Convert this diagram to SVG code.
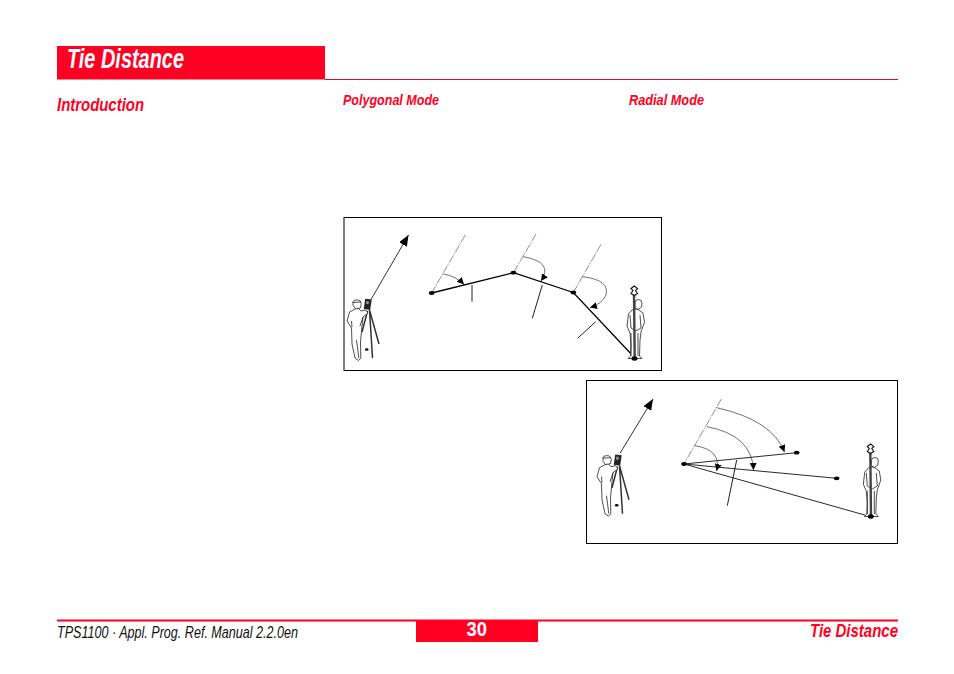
<svg xmlns="http://www.w3.org/2000/svg" width="954" height="674" viewBox="0 0 954 674">
<style>
text{font-family:"Liberation Sans",Arial,sans-serif;font-style:italic;font-weight:bold;fill:#f02}
.f{fill:#fff;stroke:#000;stroke-width:1}
.fig{fill:#fff;stroke:#222;stroke-width:.8;stroke-linejoin:round}
.leg{fill:none;stroke:#333;stroke-width:1.500}
.dash{fill:none;stroke:#444;stroke-width:.6;stroke-dasharray:8 1.200 1.500 1.200}
.ln{fill:none;stroke:#000;stroke-width:1.300}
.ln2{fill:none;stroke:#111;stroke-width:.9}
.ar{fill:none;stroke:#333;stroke-width:.7;marker-end:url(#a)}
.no{fill:none;stroke:#000;stroke-width:.8;marker-end:url(#b)}
.ld{fill:none;stroke:#222;stroke-width:1}
</style>
<defs>
<marker id="a" markerUnits="userSpaceOnUse" markerWidth="9" markerHeight="8" refX="7" refY="3.500" orient="auto"><path d="M0 0L7 3.500L0 7Z" fill="#000"/></marker>
<marker id="b" markerUnits="userSpaceOnUse" markerWidth="12" markerHeight="10" refX="11" refY="4.500" orient="auto"><path d="M0 0L11 4.500L0 9Z" fill="#000"/></marker>
<g id="surveyor">
<path class="leg" d="M369.500 310L379 344M369.500 310L372.500 358"/>
<path class="leg" d="M367.500 311L362 332"/>
<path class="fig" d="M355 309L349.500 312L347 321L351.500 328L352 344L355 358L358.500 360.500L360.800 358L360.500 342L362 326L363 317L368 313L365.500 310L361 311L358 308Z"/>
<path class="fig" d="M356.500 340L358.800 358M351.500 321L352 327M363 317L360 326"/>
<path d="M353 305.500a4.300 4.300 0 0 1 8.300-2l-.8 4.500l-5 .8Z" class="fig"/>
<path d="M352.500 302.500a4.500 3.500 0 0 1 8.500-.5Z" class="fig"/>
<rect x="364.500" y="299" width="6.500" height="10.500" fill="#222" transform="rotate(8 367 304)"/>
<rect x="366" y="301" width="2.500" height="3" fill="#999" transform="rotate(8 367 304)"/>
<ellipse cx="366.700" cy="349.500" rx="1.800" ry="1.300" fill="#000"/>
</g>
<g id="rodman">
<path class="fig" d="M632 310L628.500 314L627 326L630 333L631 345L630.500 356L628 358.500L633 358.500L637 358.500L642 358.500L639.500 356L640 340L641 332L644.500 322L643 313L639 310L636 309Z"/>
<path class="fig" d="M630 315L631 328L636 331L641 328L640 315M631 333V356M638 333V356"/>
<path class="fig" d="M635 303a3.500 3.500 0 0 1 7 0l-.5 4l-3.500 2.500l-3-2Z"/>
<path d="M634 293L634.700 358" fill="none" stroke="#444" stroke-width="2.400"/>
<path d="M631 288.500L634.300 286L637.500 288.500L635.500 290.500L637.500 293.500L634.300 295.500L631 293.500L633 290.500Z" fill="#fff" stroke="#111" stroke-width="1.100"/>
<ellipse cx="634.500" cy="358.500" rx="3" ry="2.200" fill="#000"/>
</g>
</defs>
<g id="header">
<rect x="57" y="46" width="268" height="33.500" fill="#f02"/>
<path d="M325 79.500H898" stroke="#d0102a" stroke-width="1"/>
<text x="67" y="68" font-size="27" textLength="117" lengthAdjust="spacingAndGlyphs" style="fill:#fff">Tie Distance</text>
<text x="57" y="111" font-size="18" textLength="87" lengthAdjust="spacingAndGlyphs">Introduction</text>
<text x="343" y="105" font-size="15" textLength="96" lengthAdjust="spacingAndGlyphs">Polygonal Mode</text>
<text x="629" y="105" font-size="15" textLength="75" lengthAdjust="spacingAndGlyphs">Radial Mode</text>
</g>
<g id="polygonal-frame"><rect class="f" x="344" y="217.500" width="317.500" height="153"/></g>
<g id="radial-frame"><rect class="f" x="586.500" y="380.500" width="311" height="163"/></g>
<g id="connectors">
<path class="no" d="M370.700 300L408.500 235"/>
<path class="dash" d="M465.300 235L431.700 293M536 234L513.500 272.700M601 244.300L573.300 292.500"/>
<path class="ln" d="M431.700 293L513.500 272.700L573.300 292.500L634 357"/>
<path class="ld" d="M472 285V301.700M542.300 285L532.300 318.300M595.700 321.700L577.700 338.300"/>
<path class="ar" d="M443.300 274Q456 276 464 284.500"/>
<path class="ar" d="M523.300 256.700Q554 262 541 281"/>
<path class="ar" d="M582.700 276.700Q610 280 606 295Q602 304 590 307.500"/>
<path class="no" d="M620 453.300L653 399"/>
<path class="dash" d="M721.300 399L684 464"/>
<path class="ln2" d="M684 464L796.700 452.700M684 464L836.700 478.300M684 464L870.700 516.700"/>
<path class="ld" d="M736.700 460L727.300 505.700"/>
<path class="ar" d="M695 445.700Q722 450 716.500 471"/>
<path class="ar" d="M706.700 426.700Q752 435 753.500 470"/>
<path class="ar" d="M716.700 407.700Q772 420 784.500 452"/>
</g>
<g id="points">
<ellipse cx="431.700" cy="293" rx="2.800" ry="1.900"/><ellipse cx="513.500" cy="272.700" rx="2.800" ry="1.900"/><ellipse cx="573.300" cy="292.500" rx="2.800" ry="1.900"/>
<ellipse cx="684" cy="464" rx="2.800" ry="1.900"/><ellipse cx="796.700" cy="452.700" rx="2.800" ry="1.900"/><ellipse cx="836.700" cy="478.300" rx="2.800" ry="1.900"/>
</g>
<g id="surveyor-1"><use href="#surveyor"/></g>
<g id="rodman-1"><use href="#rodman"/></g>
<g id="surveyor-2"><use href="#surveyor" x="250" y="155.700"/></g>
<g id="rodman-2"><use href="#rodman" x="236.300" y="158"/></g>
<g id="footer">
<path d="M57 620.500H898" stroke="#f02" stroke-width="2"/>
<rect x="416" y="620" width="122" height="22" fill="#f02"/>
<text x="57" y="638" font-size="17" textLength="241" lengthAdjust="spacingAndGlyphs" style="fill:#111;font-weight:normal">TPS1100 · Appl. Prog. Ref. Manual 2.2.0en</text>
<text x="466.500" y="636" font-size="20" textLength="20.500" lengthAdjust="spacingAndGlyphs" style="fill:#fff;font-style:normal">30</text>
<text x="810" y="637" font-size="19" textLength="88" lengthAdjust="spacingAndGlyphs">Tie Distance</text>
</g>
</svg>
